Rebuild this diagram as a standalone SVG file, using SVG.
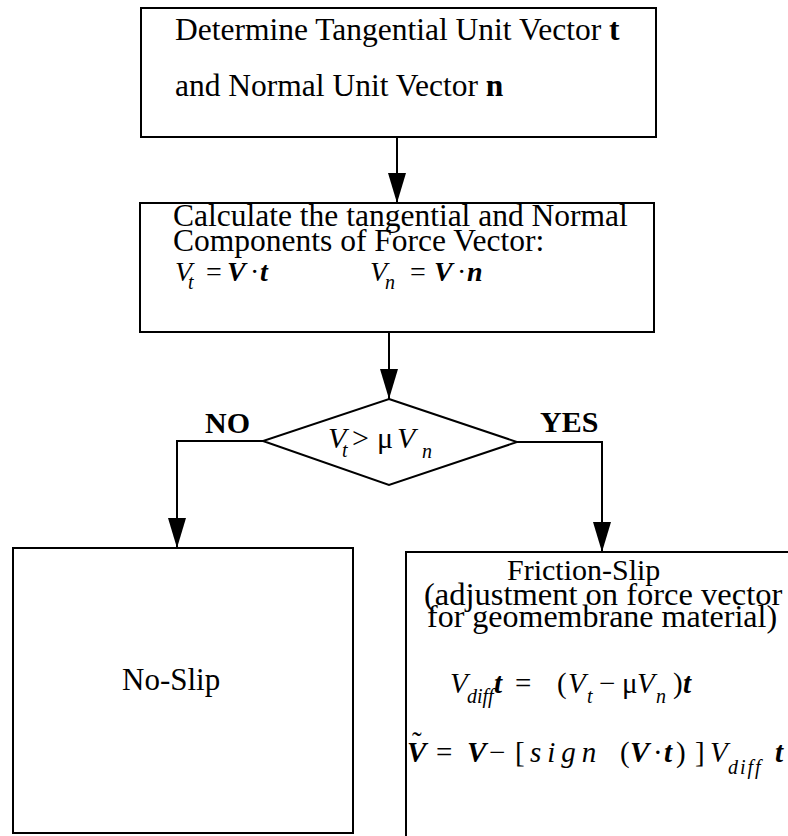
<svg xmlns="http://www.w3.org/2000/svg" width="788" height="836" viewBox="0 0 788 836">
<defs>
<style>
.box{fill:#fff;stroke:#000;stroke-width:2}
.con{fill:none;stroke:#000;stroke-width:2}
.t{font-family:"Liberation Serif","Times New Roman",serif;fill:#000}
.i{font-style:italic}
.b{font-weight:bold}
.bi{font-weight:bold;font-style:italic}
</style>
<marker id="ah" markerUnits="userSpaceOnUse" markerWidth="32" markerHeight="20" refX="30" refY="9" orient="auto">
<path d="M0,0 L30,9 L0,18 z" fill="#000"/>
</marker>
</defs>
<rect width="788" height="836" fill="#fff"/>

<g id="connectors">
<line class="con" x1="397" y1="137" x2="397" y2="203" marker-end="url(#ah)"/>
<line class="con" x1="389" y1="332" x2="389" y2="399" marker-end="url(#ah)"/>
<polyline class="con" points="263,441 177,441 177,548" marker-end="url(#ah)"/>
<polyline class="con" points="517,442 602,442 602,552" marker-end="url(#ah)"/>
</g>

<g id="box1">
<rect class="box" x="141" y="8" width="515" height="129"/>
<text class="t" x="175" y="40" font-size="31.5">Determine Tangential Unit Vector <tspan class="b">t</tspan></text>
<text class="t" x="175" y="96" font-size="31.5">and Normal Unit Vector <tspan class="b">n</tspan></text>
</g>

<g id="box2">
<rect class="box" x="140" y="203" width="514" height="129"/>
<text class="t" x="173" y="226" font-size="31.5">Calculate the tangential and Normal</text>
<text class="t" x="173" y="251" font-size="31.5">Components of Force Vector:</text>
<text class="t" font-size="28">
<tspan class="i" x="175" y="281">V</tspan><tspan class="i" x="188" y="289" font-size="20">t</tspan><tspan x="206" y="281">=</tspan><tspan class="bi" x="227" y="281">V</tspan><tspan x="250" y="281">·</tspan><tspan class="bi" x="260" y="281">t</tspan>
<tspan class="i" x="370" y="281">V</tspan><tspan class="i" x="385" y="289" font-size="20">n</tspan><tspan x="410" y="281">=</tspan><tspan class="bi" x="434" y="281">V</tspan><tspan x="457" y="281">·</tspan><tspan class="bi" x="467" y="281">n</tspan>
</text>
</g>

<g id="decision">
<polygon class="box" points="389,399 517,442 389,485 263,441"/>
<text class="t" font-size="30">
<tspan class="i" x="328" y="448">V</tspan><tspan class="i" x="342" y="457" font-size="20">t</tspan><tspan x="352" y="448">&gt;</tspan><tspan x="377" y="448">μ</tspan><tspan class="i" x="397" y="448">V</tspan><tspan class="i" x="422" y="458" font-size="20">n</tspan>
</text>
<text class="t b" x="205" y="433" font-size="30">NO</text>
<text class="t b" x="540" y="432" font-size="30">YES</text>
</g>

<g id="noslip">
<rect class="box" x="13" y="548" width="340" height="285"/>
<text class="t" x="122" y="690" font-size="31">No-Slip</text>
</g>

<g id="frictionslip">
<rect class="box" x="406" y="552" width="420" height="320"/>
<text class="t" x="507" y="580" font-size="30">Friction-Slip</text>
<text class="t" x="424" y="605" font-size="32.5">(adjustment on force vector</text>
<text class="t" x="427" y="627" font-size="32">for geomembrane material)</text>
<text class="t" font-size="29">
<tspan class="i" x="450" y="693">V</tspan><tspan class="i" x="467" y="703" font-size="20">diff</tspan><tspan class="bi" x="494" y="693">t</tspan><tspan x="515" y="693">=</tspan><tspan x="557" y="693">(</tspan><tspan class="i" x="568" y="693">V</tspan><tspan class="i" x="587" y="703" font-size="20">t</tspan><tspan x="599" y="693">−</tspan><tspan x="622" y="693">μ</tspan><tspan class="i" x="637" y="693">V</tspan><tspan class="i" x="656" y="703" font-size="20">n</tspan><tspan x="673" y="693">)</tspan><tspan class="bi" x="683" y="693">t</tspan>
</text>
<text class="t" font-size="29">
<tspan class="bi" x="407" y="762">V</tspan><tspan x="412" y="752">˜</tspan><tspan x="436" y="762">=</tspan><tspan class="bi" x="467" y="762">V</tspan><tspan x="489" y="762">−</tspan><tspan x="515" y="762">[</tspan><tspan class="i" x="530" y="762" letter-spacing="6">sign</tspan><tspan x="620" y="762">(</tspan><tspan class="bi" x="630" y="762">V</tspan><tspan x="653" y="762">·</tspan><tspan class="bi" x="664" y="762">t</tspan><tspan x="676" y="762">)</tspan><tspan x="695" y="762">]</tspan><tspan class="i" x="710" y="762">V</tspan><tspan class="i" x="728" y="774" font-size="20" letter-spacing="2">diff</tspan><tspan class="bi" x="775" y="762">t</tspan>
</text>
</g>
</svg>
